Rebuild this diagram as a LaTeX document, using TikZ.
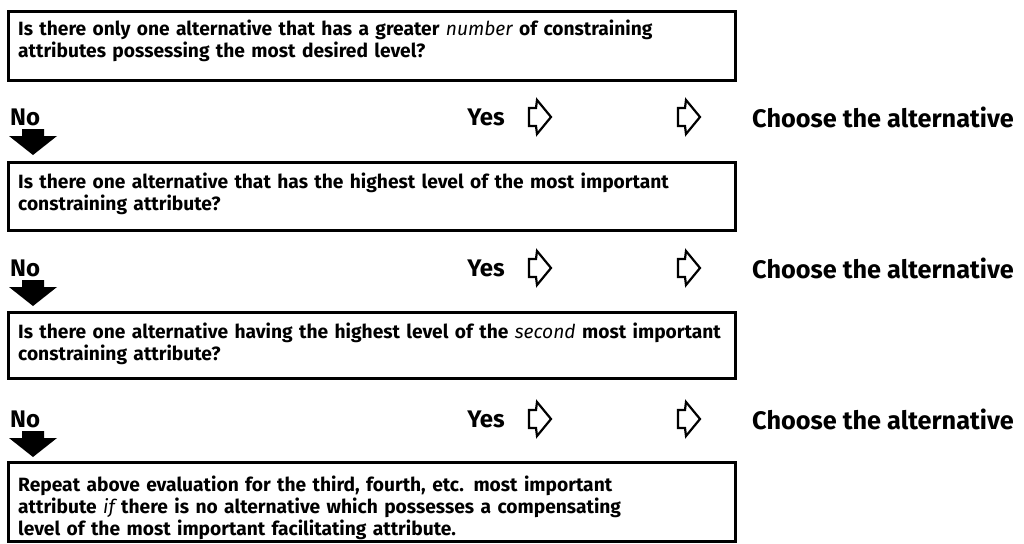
\documentclass[tikz,border=0pt]{standalone}
\usepackage{fontspec}
\setmainfont{Fira Sans}
\newcommand{\lightit}[1]{{\mdseries\itshape #1}}
\begin{document}
\begin{tikzpicture}[x=1pt,y=-1pt,
  qbox/.style={draw, line width=3pt, anchor=north west, outer sep=0pt, inner sep=0pt,
    minimum width=727pt, minimum height=#1},
  qtext/.style={anchor=north west, align=left, inner sep=0pt, text width=715pt,
    font=\bfseries\fontsize{19.2}{22}\selectfont},
  lbl/.style={font=\bfseries\fontsize{24}{26}\selectfont, inner sep=0pt},
  chlbl/.style={font=\bfseries\fontsize{25.3}{27}\selectfont, inner sep=0pt},
  hollowarrow/.pic={\draw[line width=2.2pt, line join=miter, fill=white]
      (0,-9) -- (7,-9) -- (8,-17) -- (22,0) -- (8,17) -- (7,9) -- (0,9) -- cycle;},
  downarrow/.pic={\fill (-11,0) -- (11,0) -- (11,7) -- (24,7) -- (0,26) -- (-24,7) -- (-11,7) -- cycle;}]
\path[use as bounding box] (0,0) rectangle (1024,543);

\node[qbox=68pt] (q1) at (8,12) {};
\node[qtext] (t1) at (18,20) {Is there only one alternative that has a greater \lightit{number} of constraining\\attributes possessing the most desired level?};
\node[qbox=68pt] (q2) at (8,162) {};
\node[qtext] (t2) at (18,173) {Is there one alternative that has the highest level of the most important\\constraining attribute?};
\node[qbox=66pt] (q3) at (8,312) {};
\node[qtext] (t3) at (18,323) {Is there one alternative having the highest level of the \lightit{second} most important\\constraining attribute?};
\node[qbox=79pt] (q4) at (8,462) {};
\node[qtext] (t4) at (18,476) {Repeat above evaluation for the third, fourth, etc. most important\\attribute \lightit{if} there is no alternative which possesses a compensating\\level of the most important facilitating attribute.};

\foreach \i/\y in {1/117,2/268,3/419}{
  \node[lbl, anchor=west] (no\i) at (10,\y) {No};
  \node[lbl, anchor=east] (yes\i) at (505,\y) {Yes};
  \pic at (529,\y) {hollowarrow};
  \pic at (678,\y) {hollowarrow};
  \node[chlbl, anchor=west] (ch\i) at (752,\y) {Choose the alternative};
  \pic at (33,\y+12) {downarrow};
}
\end{tikzpicture}
\end{document}
